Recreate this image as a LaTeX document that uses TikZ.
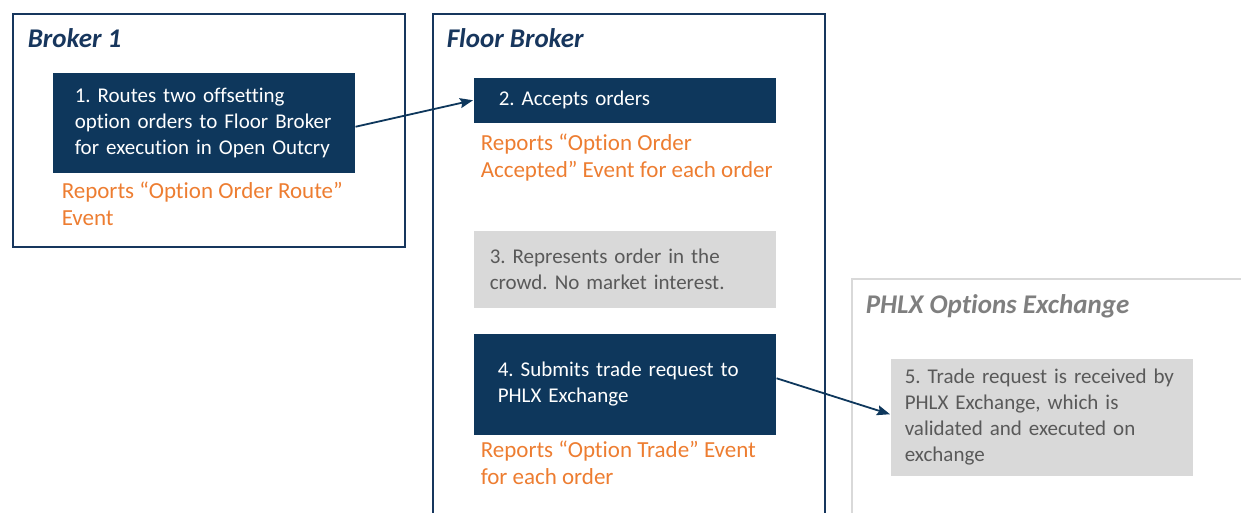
\documentclass[tikz,border=0pt]{standalone}
\usepackage{fontspec}
\setmainfont{Carlito}[Ligatures={NoCommon,NoRare}]
\usepackage{tikz}
\usetikzlibrary{shapes, arrows, arrows.meta, positioning}
\usepackage{xcolor}
\definecolor{navybox}{HTML}{0E375C}
\definecolor{navyline}{HTML}{17365D}
\definecolor{evorange}{HTML}{ED7D31}
\definecolor{lightbox}{HTML}{D9D9D9}
\definecolor{boxtext}{HTML}{595959}
\definecolor{greytitle}{HTML}{7F7F7F}
\frenchspacing

\begin{document}
\begin{tikzpicture}[x=1pt, y=-1pt, >={Stealth[length=13pt, width=10pt, inset=2pt]}, line width=1.5pt]

\tikzstyle{party} = [rectangle, draw=navyline, line width=2pt, anchor=north west, inner sep=0pt]
\tikzstyle{party_title} = [anchor=base west, inner sep=0pt, text=navyline, font=\fontsize{27}{32}\selectfont\bfseries\itshape]
\tikzstyle{action} = [rectangle, fill=navybox, text=white, anchor=north west, minimum width=302pt, inner ysep=0pt, align=left, font=\fontsize{21}{26}\selectfont]
\tikzstyle{passive} = [action, fill=lightbox, text=boxtext]
\tikzstyle{event} = [inner sep=0pt, align=left, text=evorange, font=\fontsize{23}{27}\selectfont]
\tikzstyle{flow} = [->, draw=navybox, line width=1.8pt]

\useasboundingbox (0,0) rectangle (1241,512);
\clip (0,0) rectangle (1241,512);

% swim lanes
\node (B1) [party, minimum width=392pt, minimum height=233pt] at (12,13) {};
\node (FB) [party, minimum width=392pt, minimum height=540pt] at (432,13) {};
\node (PX) [party, draw=lightbox, minimum width=420pt, minimum height=260pt] at (851,278) {};

\node (B1t) [party_title] at ([shift={(15,34)}]B1.north west) {Broker 1};
\node (FBt) [party_title] at ([shift={(14,34)}]FB.north west) {Floor Broker};
\node (PXt) [party_title, text=greytitle] at ([shift={(14,35)}]PX.north west) {PHLX Options Exchange};

% steps
\node (M1) [action, text width=258pt, inner xsep=22pt, minimum height=100pt] at (52,72) {1. Routes two offsetting\\option orders to Floor Broker\\for execution in Open Outcry};
\node (M2) [action, text width=252pt, inner xsep=25pt, minimum height=45pt] at (473,77) {2. Accepts orders};
\node (M3) [passive, text width=270pt, inner xsep=16pt, minimum height=77pt] at (473,230) {3. Represents order in the\\crowd. No market interest.};
\node (M4) [action, text width=254pt, inner xsep=24pt, minimum height=101pt] at (473,333) {4. Submits trade request to\\PHLX Exchange};
\node (M5) [passive, text width=274pt, inner xsep=14pt, minimum height=117pt] at (890,358) {5. Trade request is received by\\PHLX Exchange, which is\\validated and executed on\\exchange};

% reported events
\node (E1) [event, below=8pt of M1.south west, anchor=north west, xshift=9pt] {Reports “Option Order Route”\\Event};
\node (E2) [event, below=10pt of M2.south west, anchor=north west, xshift=7pt] {Reports “Option Order\\Accepted” Event for each order};
\node (E4) [event, below=5pt of M4.south west, anchor=north west, xshift=7pt] {Reports “Option Trade” Event\\for each order};

\draw [flow] ([yshift=-4pt]M1.east) -- (M2.west);
\draw [flow] ([yshift=6pt]M4.east) -- ([yshift=3pt]M5.west);

\end{tikzpicture}
\end{document}
